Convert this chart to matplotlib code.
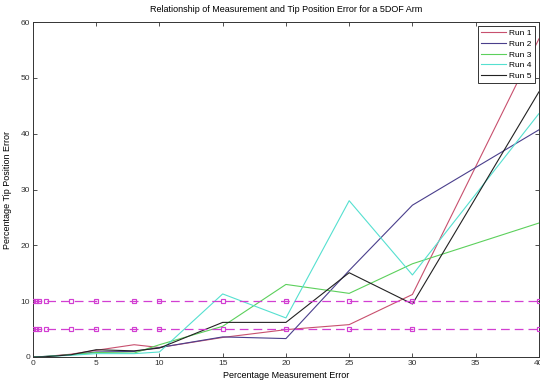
"""Tip position error vs measurement error for a 5DOF arm."""
import matplotlib

matplotlib.use("Agg")
import matplotlib.pyplot as plt

# measurement error levels (percent)
meas_err = [0, 0.25, 0.5, 1, 3, 5, 8, 10, 15, 20, 25, 30, 40]

# tip position error (percent) per run
run1 = [0, 0.02, 0.05, 0.1, 0.5, 1.2, 2.2, 1.7, 3.5, 4.9, 5.8, 11.2, 57.0]
run2 = [0, 0.02, 0.05, 0.1, 0.4, 0.9, 1.0, 1.7, 3.6, 3.3, 15.5, 27.2, 40.7]
run3 = [0, 0.03, 0.06, 0.1, 0.4, 0.8, 0.7, 2.2, 5.5, 13.0, 11.4, 16.7, 24.0]
run4 = [0, 0.02, 0.05, 0.1, 0.3, 0.6, 0.6, 0.9, 11.3, 7.0, 28.0, 14.7, 43.6]
run5 = [0, 0.01, 0.03, 0.05, 0.4, 1.3, 1.1, 1.6, 6.2, 6.2, 15.1, 9.5, 47.5]

runs = [run1, run2, run3, run4, run5]
run_labels = ["Run 1", "Run 2", "Run 3", "Run 4", "Run 5"]
run_colors = ["#c8506e", "#4a3f8c", "#5cd05c", "#55e0d0", "#222222"]

# reference thresholds
thresholds = [10, 5]

plt.rcParams["font.family"] = ["Liberation Sans", "DejaVu Sans"]

fig = plt.figure(figsize=(5.4, 3.81), dpi=100)
ax = fig.add_axes([0.061, 0.063, 0.937, 0.879])

for vals, lab, col in zip(runs, run_labels, run_colors):
    ax.plot(meas_err, vals, color=col, lw=0.8, label=lab)

for t in thresholds:
    ax.plot(meas_err, [t] * len(meas_err), linestyle=(0, (7, 4)), marker="s",
            color="#d23fd2", lw=0.9, markersize=3.2, markerfacecolor="none",
            markeredgecolor="#d23fd2", markeredgewidth=0.85, zorder=3)

ax.set_xlim(0, 40)
ax.set_ylim(0, 60)
ax.set_xticks(range(0, 41, 5))
ax.set_yticks(range(0, 61, 10))
ax.tick_params(direction="in", top=True, right=True, labelsize=6, length=3,
               width=0.6, pad=2, colors="#333333")
for s in ax.spines.values():
    s.set_linewidth(0.7)
    s.set_color("#333333")

ax.set_xlabel("Percentage Measurement Error", fontsize=6.5, labelpad=3)
ax.set_ylabel("Percentage Tip Position Error", fontsize=6.5, labelpad=6)
ax.set_title("Relationship of Measurement and Tip Position Error for a 5DOF Arm",
             fontsize=6.5, pad=7)

leg = ax.legend(loc="upper right", fontsize=6, handlelength=3.0,
                handletextpad=0.4, fancybox=False, framealpha=1,
                borderpad=0.4, labelspacing=0.35, borderaxespad=0.45)
leg.get_frame().set_edgecolor("#333333")
leg.get_frame().set_linewidth(0.7)

fig.savefig("out.png", dpi=100)
